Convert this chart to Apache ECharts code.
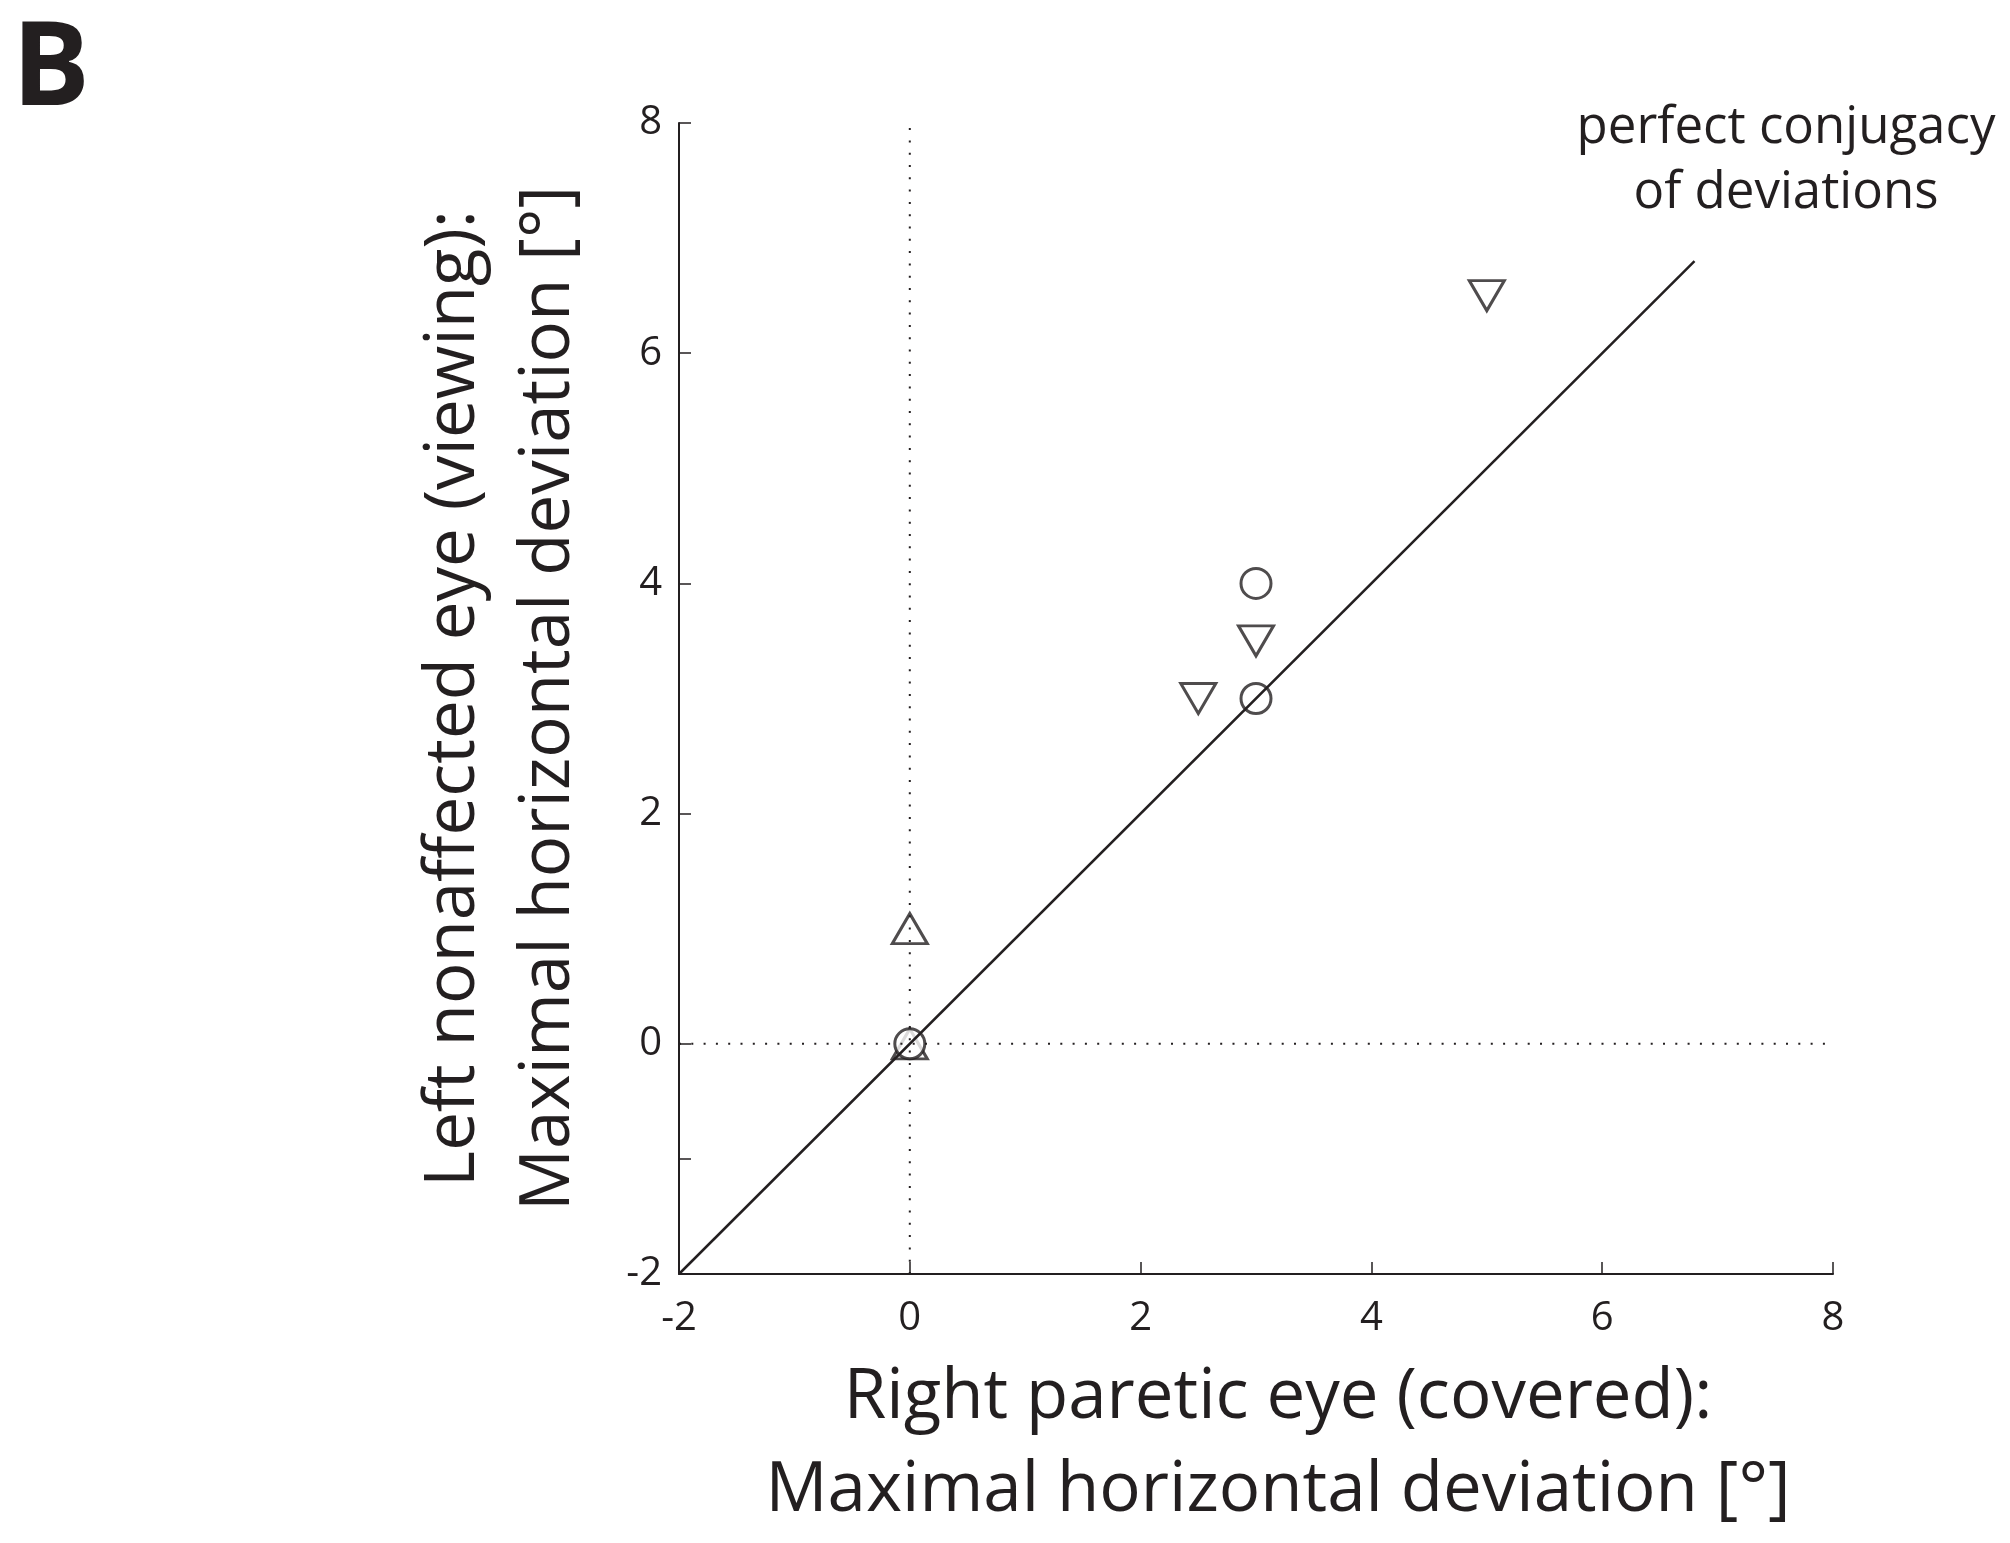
<!DOCTYPE html>
<html>
<head>
<meta charset="utf-8">
<script src="https://cdn.jsdelivr.net/npm/echarts@6/dist/echarts.min.js"></script>
<style>
html,body{margin:0;padding:0;background:#fff;}
#chart{width:2010px;height:1543px;}
</style>
</head>
<body>
<div id="chart"></div>
<script>
// ---- data ----
const circlePoints = [[3, 4], [3, 3], [0, 0]];
const upTrianglePoints = [[0, 1], [0, 0]];
const downTrianglePoints = [[2.5, 3], [3, 3.5], [5, 6.5]];
const conjugacyLine = [[-2, -2], [6.8, 6.8]];
const zeroVertical = [[0, -2], [0, 8]];
const zeroHorizontal = [[-2, 0], [8, 0]];
const xTickLabels = [-2, 0, 2, 4, 6, 8];
const yTickLabels = [-2, 0, 2, 4, 6, 8];
const yTicks = [-2, -1, 0, 2, 4, 6, 8];
const xTicks = [-2, 0, 2, 4, 6, 8];
const panelLabel = 'B';
const xName = 'Right paretic eye (covered):\nMaximal horizontal deviation [°]';
const yName = 'Left nonaffected eye (viewing):\nMaximal horizontal deviation [°]';
const annotation = 'perfect conjugacy\nof deviations';

const ink = '#231f20';
const font = 'Open Sans';

const chart = echarts.init(document.getElementById('chart'), null, {renderer: 'canvas'});
const markerStyle = {color: '#ffffff', borderColor: ink, borderWidth: 3};

chart.setOption({
  animation: false,
  backgroundColor: '#ffffff',
  title: {
    text: panelLabel, left: 7, top: 9,
    textStyle: {fontFamily: font, fontWeight: 'bold', fontSize: 116, color: ink}
  },
  graphic: [{
    type: 'text',
    position: [1786, 96],
    style: {
      text: annotation, fontFamily: font, fontSize: 51, fill: ink,
      align: 'center', verticalAlign: 'top', lineHeight: 65
    }
  }],
  grid: {left: 679, top: 123, width: 1154, height: 1154, containLabel: false},
  xAxis: {
    type: 'value', min: -2, max: 8, interval: 2,
    name: xName, nameLocation: 'middle', nameGap: 78,
    nameTextStyle: {fontFamily: font, fontSize: 69, color: ink, lineHeight: 93, padding: [0, 0, 0, 44]},
    axisLine: {show: true, onZero: false, lineStyle: {color: ink, width: 2}},
    axisTick: {show: true, inside: true, length: 12, customValues: xTicks, lineStyle: {color: ink, width: 1.5}},
    axisLabel: {customValues: xTickLabels, fontFamily: font, fontSize: 40, color: ink, margin: 25},
    splitLine: {show: false}
  },
  yAxis: {
    type: 'value', min: -2, max: 8, interval: 1,
    name: yName, nameLocation: 'middle', nameGap: 82, nameRotate: 90,
    nameTextStyle: {fontFamily: font, fontSize: 69, color: ink, lineHeight: 95},
    axisLine: {show: true, onZero: false, lineStyle: {color: ink, width: 2}},
    axisTick: {show: true, inside: true, length: 12, customValues: yTicks, lineStyle: {color: ink, width: 1.5}},
    axisLabel: {customValues: yTickLabels, fontFamily: font, fontSize: 40, color: ink, margin: 17},
    splitLine: {show: false}
  },
  series: [
    {type: 'line', data: zeroVertical, showSymbol: false, silent: true,
     lineStyle: {color: ink, width: 2, type: [2, 10.3]}},
    {type: 'line', data: zeroHorizontal, showSymbol: false, silent: true,
     lineStyle: {color: ink, width: 2, type: [2, 10.3]}},
    {type: 'line', data: conjugacyLine, showSymbol: false, silent: true,
     lineStyle: {color: ink, width: 2.5}},
    {type: 'scatter', data: upTrianglePoints, symbol: 'triangle', symbolSize: [35, 30], itemStyle: markerStyle},
    {type: 'scatter', data: downTrianglePoints, symbol: 'triangle', symbolRotate: 180, symbolSize: [35, 30], itemStyle: markerStyle},
    {type: 'scatter', data: circlePoints, symbol: 'circle', symbolSize: 30, itemStyle: markerStyle}
  ]
});
</script>
</body>
</html>
